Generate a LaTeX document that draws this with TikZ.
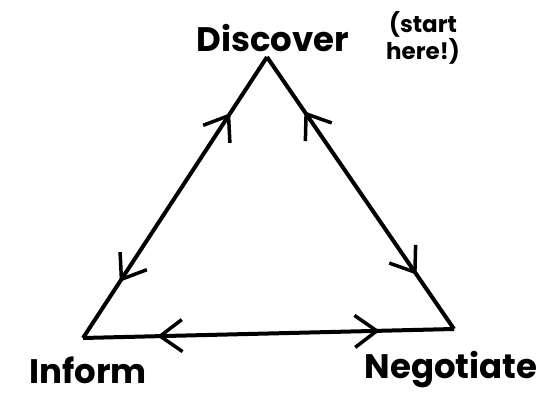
\documentclass[tikz,border=0pt]{standalone}
\usepackage{fontspec}
\setmainfont{Poppins}
\usetikzlibrary{arrows.meta,decorations.markings}

\tikzset{
  barb/.tip={Straight Barb[length=22pt,width=32pt,line width=3.5pt]},
  edge/.style={line width=4pt,line join=miter,
    postaction={decorate},
    decoration={markings,
      mark=at position 0.2 with {\arrowreversed{barb}},
      mark=at position 0.8 with {\arrow{barb}}}},
  lbl/.style={font=\fontsize{34}{36}\selectfont\bfseries},
  note/.style={font=\fontsize{23}{25}\selectfont\bfseries,align=center}
}

\begin{document}
\begin{tikzpicture}[x=1pt,y=-1pt]
  \useasboundingbox (0,0) rectangle (558,401);
  % corners of the cycle
  \coordinate (dis) at (267,57);
  \coordinate (inf) at (83,338);
  \coordinate (neg) at (454,329);
  % labels
  \node[lbl] (tdis) at (273,38) {Discover};
  \node[note] (start) at (423,38) {(start\\here!)};
  \node[lbl] (tinf) at (88,370) {Inform};
  \node[lbl] (tneg) at (451,370) {Negotiate};
  % edges, both ways
  \draw[edge] (inf) -- (dis);
  \draw[edge] (dis) -- (neg);
  \draw[edge] (inf) -- (neg);
\end{tikzpicture}
\end{document}
